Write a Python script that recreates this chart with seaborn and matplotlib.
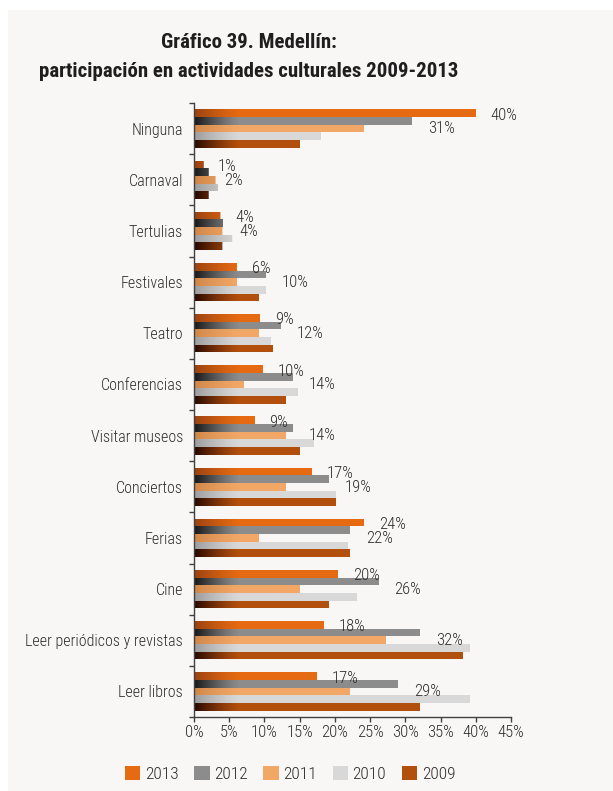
import numpy as np
import pandas as pd
import matplotlib
matplotlib.use("Agg")
import matplotlib.pyplot as plt
from matplotlib import font_manager
from matplotlib.colors import to_rgb
from matplotlib.patches import Rectangle
from matplotlib.ticker import FixedLocator
import seaborn as sns

# ---- data -------------------------------------------------------------
categorias = ["Ninguna", "Carnaval", "Tertulias", "Festivales", "Teatro",
              "Conferencias", "Visitar museos", "Conciertos", "Ferias", "Cine",
              "Leer periódicos y revistas", "Leer libros"]
anios = ["2013", "2012", "2011", "2010", "2009"]

v2013 = [40.0, 1.3, 3.7, 6.1, 9.4, 9.8, 8.6, 16.7, 24.2, 20.4, 18.4, 17.4]
v2012 = [31.0, 2.0, 4.1, 10.2, 12.3, 14.0, 14.0, 19.1, 22.2, 26.2, 32.1, 29.0]
v2011 = [24.2, 3.0, 4.0, 6.1, 9.2, 7.1, 13.0, 13.0, 9.2, 15.0, 27.3, 22.2]
v2010 = [18.0, 3.4, 5.4, 10.2, 10.9, 14.7, 17.0, 20.1, 21.8, 23.2, 39.2, 39.2]
v2009 = [15.0, 2.0, 4.0, 9.2, 11.2, 13.0, 15.0, 20.1, 22.2, 19.1, 38.2, 32.1]

xticks = [0, 5, 10, 15, 20, 25, 30, 35, 40, 45]
xticklabels = ["0%", "5%", "10%", "15%", "20%", "25%", "30%", "35%", "40%", "45%"]

titulo1 = "Gráfico 39. Medellín:"
titulo2 = "participación en actividades culturales 2009-2013"

series = {"2013": v2013, "2012": v2012, "2011": v2011, "2010": v2010, "2009": v2009}
df = pd.DataFrame([
    {"actividad": c, "anio": a, "valor": v}
    for a in anios for c, v in zip(categorias, series[a])
])

# ---- style ------------------------------------------------------------
colores = {"2013": "#e56a12", "2012": "#8c8c8c", "2011": "#f2a766",
           "2010": "#d8d8d8", "2009": "#b24f0c"}
oscuros = {"2013": "#9a4210", "2012": "#161616", "2011": "#cf8748",
           "2010": "#9c9c9c", "2009": "#240700"}
fondo = "#f9f6f6"
texto = "#2e2e2e"
peso = "light"

sns.set_theme(style="white")
disponibles = {f.name for f in font_manager.fontManager.ttflist}
familia = next((f for f in ["Liberation Sans Narrow", "Roboto Condensed",
                            "Open Sans Condensed", "DejaVu Sans"]
                if f in disponibles), "DejaVu Sans")
plt.rcParams["font.family"] = [familia, "DejaVu Sans"]

W, H = 613, 791
fig = plt.figure(figsize=(W / 100, H / 100), dpi=100, facecolor="white")
fig.patches.append(Rectangle((8 / W, 0), 1, 1 - 10 / H, transform=fig.transFigure,
                             facecolor=fondo, edgecolor="none", zorder=-10))

ax = fig.add_axes([194 / W, 1 - 717 / H, (511 - 194) / W, (717 - 103) / H])
ax.set_facecolor("none")

sns.barplot(data=df, y="actividad", x="valor", hue="anio", hue_order=anios,
            order=categorias, orient="h", palette=colores, saturation=1,
            width=0.75, ax=ax, errorbar=None, linewidth=0)

# dark-to-colour shading at the base of every bar
span = 6.5
for anio, cont in zip(anios, ax.containers):
    rgb = to_rgb(oscuros[anio])
    grad = np.zeros((1, 256, 4))
    grad[..., :3] = rgb
    grad[..., 3] = np.linspace(1, 0, 256) ** 1.3
    for bar in cont:
        y0, h = bar.get_y(), bar.get_height()
        im = ax.imshow(grad, extent=[0, span, y0, y0 + h], aspect="auto",
                       interpolation="bilinear", zorder=bar.get_zorder() + 0.1)
        im.set_clip_path(bar)
ax.set_xlim(0, 45)
ax.set_ylim(len(categorias) - 0.5, -0.5)
ax.set_aspect("auto")

# value labels for 2013 and 2012
for anio, cont, dx, dy in [("2013", ax.containers[0], 15, -2),
                           ("2012", ax.containers[1], 16, -8)]:
    for bar, v in zip(cont, series[anio]):
        ax.annotate(f"{v:.0f}%", (bar.get_width(), bar.get_y() + bar.get_height() / 2),
                    xytext=(dx, dy), textcoords="offset pixels", ha="left",
                    va="center", fontsize=12, color=texto, fontweight=peso)

# axes
ax.set_xlabel("")
ax.set_ylabel("")
ax.set_xticks(xticks)
ax.set_xticklabels(xticklabels, fontsize=12, color=texto, fontweight=peso)
ax.set_yticks(range(len(categorias)))
ax.set_yticklabels(categorias, fontsize=11.5, color=texto, fontweight=peso)
ax.yaxis.set_minor_locator(FixedLocator(np.arange(-0.5, len(categorias), 1)))
ax.tick_params(axis="y", which="major", length=0, pad=8)
ax.tick_params(axis="y", which="minor", length=3.6, width=1, color="#404040",
               direction="out", left=True)
ax.tick_params(axis="x", length=3.6, width=1, color="#404040", direction="out",
               bottom=True, pad=2.5)
for s in ["top", "right"]:
    ax.spines[s].set_visible(False)
for s in ["left", "bottom"]:
    ax.spines[s].set_color("#404040")
    ax.spines[s].set_linewidth(1)

# legend
handles, labels = ax.get_legend_handles_labels()
ax.get_legend().remove()
fig.legend(handles, labels, loc="center", bbox_to_anchor=(290 / W, 1 - 774 / H),
           ncol=5, frameon=False, handlelength=0.9,
           handleheight=0.9, handletextpad=0.25, columnspacing=0.9,
           labelcolor=texto, prop={"size": 12.5, "weight": peso})

# title
fig.text(249 / W, 1 - 48 / H, titulo1, ha="center", va="baseline",
         fontsize=15, fontweight="bold", color="#1e1e1e")
fig.text(249 / W, 1 - 77 / H, titulo2, ha="center", va="baseline",
         fontsize=15, fontweight="bold", color="#1e1e1e")

fig.savefig("out.png", dpi=100, facecolor="white")
